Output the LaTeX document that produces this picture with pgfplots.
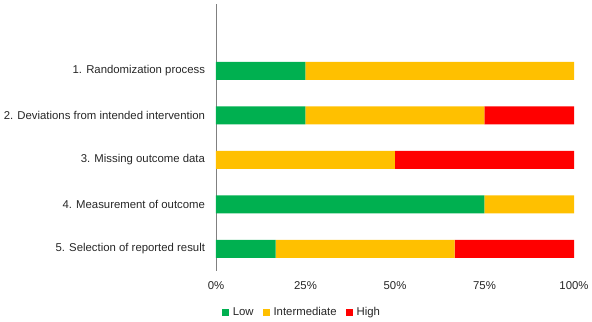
\documentclass[border=0pt]{standalone}
\usepackage{pgfplots}
\pgfplotsset{compat=1.18}
\usepackage{fontspec}
\setmainfont{Liberation Sans}

\definecolor{lowc}{HTML}{00B050}
\definecolor{midc}{HTML}{FFC000}
\definecolor{highc}{HTML}{FF0000}
\definecolor{txt}{HTML}{262626}

\pgfplotstableread{
dom low mid high
1 25    75 0
2 25    50 25
3 0     50 50
4 75    25 0
5 16.67 50 33.33
}\rob

\begin{document}
\begin{tikzpicture}
\begin{axis}[
  scale only axis,
  width=358bp, height=267bp,
  xbar stacked, bar width=18bp,
  xmin=0, xmax=100,
  ymin=-0.5, ymax=5.5, y dir=reverse,
  xtick={0,25,50,75,100},
  xticklabels={0\%,25\%,50\%,75\%,100\%},
  ytick={1,2,3,4,5},
  yticklabels={1. Randomization process,2. Deviations from intended intervention,3. Missing outcome data,4. Measurement of outcome,5. Selection of reported result},
  axis x line*=bottom, axis y line*=left,
  x axis line style={draw=none},
  y axis line style={draw=black!50, line width=0.8pt},
  major tick length=0pt, tick style={draw=none},
  tick label style={font=\fontsize{11.4}{13}\selectfont, text=txt},
  yticklabel style={xshift=-7.5bp},
  xticklabel style={yshift=-7bp},
  legend style={at={(rel axis cs:0.24,-0.154)}, anchor=center, draw=none,
    legend columns=3, font=\fontsize{11.4}{13}\selectfont, text=txt,
    /tikz/every odd column/.append style={column sep=2bp},
    /tikz/every even column/.append style={column sep=7bp}},
  legend image code/.code={\fill[#1] (0bp,-3.5bp) rectangle (7bp,3.5bp);},
]
\addplot[fill=lowc, draw=none] table[x=low, y=dom] {\rob};
\addplot[fill=midc, draw=none] table[x=mid, y=dom] {\rob};
\addplot[fill=highc, draw=none] table[x=high, y=dom] {\rob};
\legend{Low, Intermediate, High}
\end{axis}
\pgfresetboundingbox
\useasboundingbox (-216bp,-51bp) rectangle (376bp,271bp);
\end{tikzpicture}
\end{document}
